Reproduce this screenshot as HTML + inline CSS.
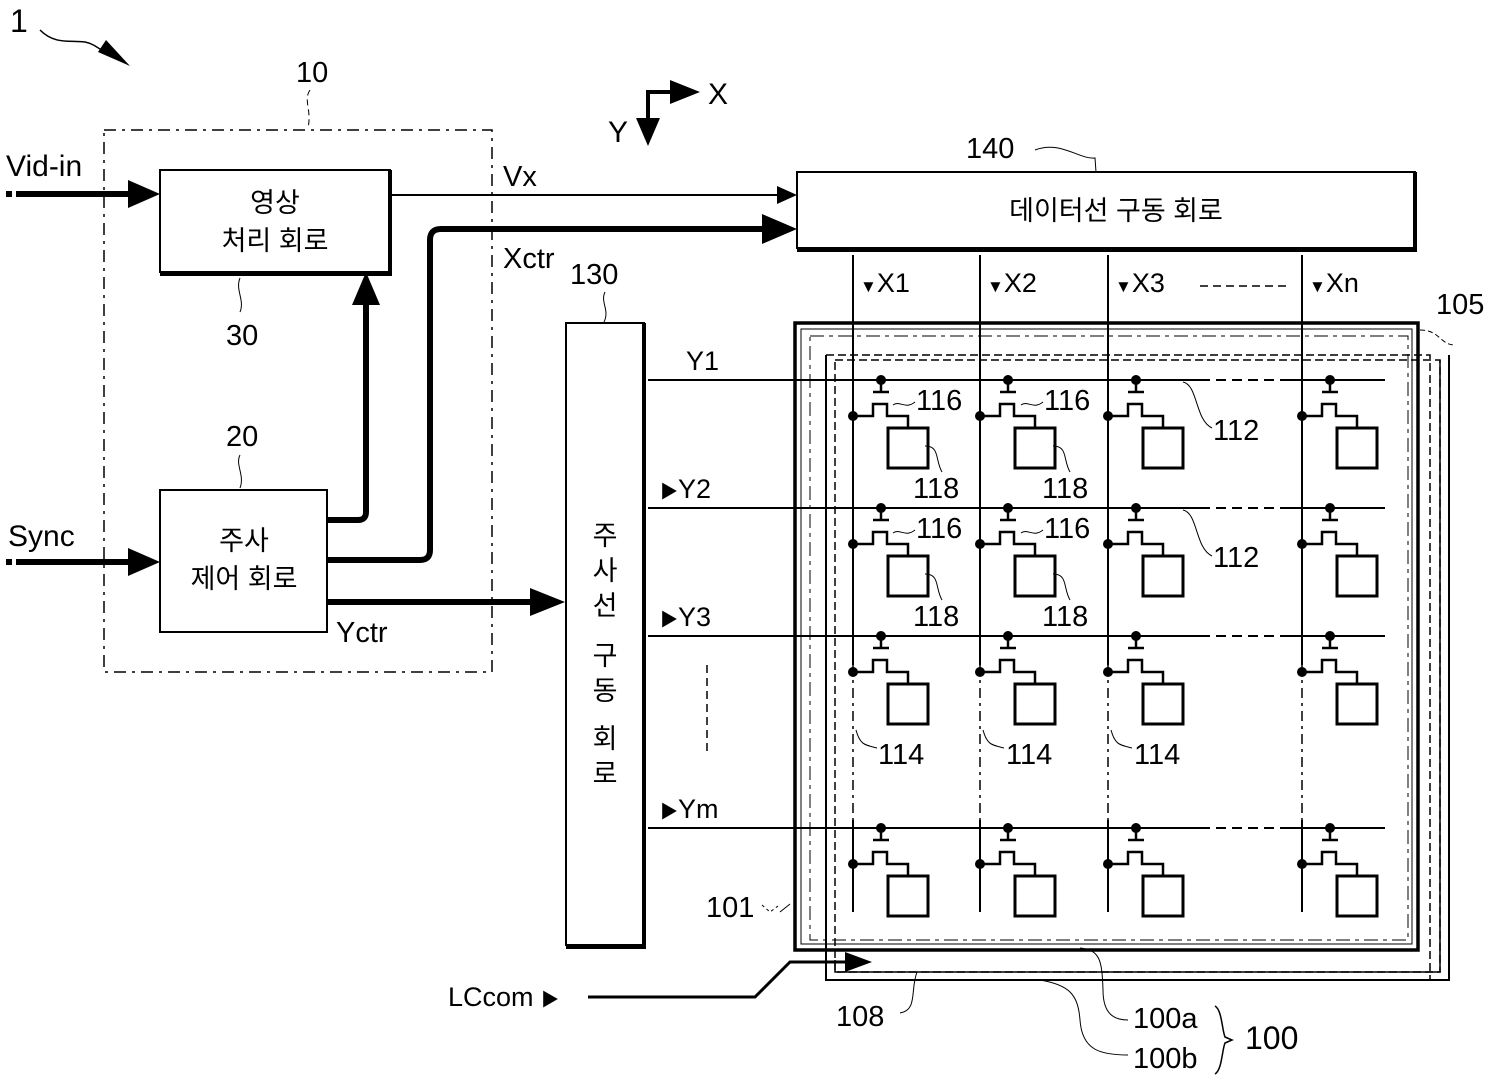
<!DOCTYPE html>
<html><head><meta charset="utf-8"><style>
html,body{margin:0;padding:0;background:#fff}
svg{display:block}
text{font-family:"Liberation Sans","Noto Sans CJK KR",sans-serif;fill:#000}
.k{font-family:"Liberation Sans","Noto Sans CJK KR",sans-serif;font-size:27px}
.l{font-size:29px}
</style></head><body>
<svg width="1500" height="1077" viewBox="0 0 1500 1077" xmlns="http://www.w3.org/2000/svg">
<defs>
<g id="cell" fill="none" stroke="#000" stroke-width="2.5">
<circle cx="28" cy="0" r="5" fill="#000" stroke="none"/>
<line x1="28" y1="0" x2="28" y2="12"/>
<line x1="20" y1="12" x2="36" y2="12"/>
<circle cx="0" cy="36" r="5" fill="#000" stroke="none"/>
<path d="M0,36H20V24H34V36H55V48"/>
<rect x="35" y="48" width="40" height="40" stroke-width="3"/>
</g>
</defs>

<!-- figure label -->
<text x="10" y="32" font-size="32">1</text>
<path d="M40,30 C55,45 70,40 85,42 C95,44 100,50 108,54" fill="none" stroke="#000" stroke-width="1.5"/>
<path d="M98,52 L106,40 L130,66 z"/>

<!-- axis -->
<path d="M648,140V92H680" fill="none" stroke="#000" stroke-width="4"/>
<path d="M670,80L700,92L670,104z"/>
<path d="M636,118L648,146L660,118z"/>
<text x="708" y="104" font-size="30">X</text>
<text x="608" y="142" font-size="30">Y</text>

<!-- block 10 dashed -->
<rect x="104" y="130" width="388" height="542" fill="none" stroke="#000" stroke-width="1.5" stroke-dasharray="12,6,3,6"/>
<text x="296" y="82" class="l">10</text>
<path d="M310,90 C303,100 312,110 308,128" fill="none" stroke="#000" stroke-width="1" stroke-dasharray="6,4"/>

<!-- box 30 -->
<rect x="160" y="170" width="230" height="102" fill="#fff" stroke="#000" stroke-width="2"/>
<path d="M390,170V274H160" fill="none" stroke="#000" stroke-width="4"/>
<text x="275" y="212" class="k" text-anchor="middle">영상</text>
<text x="275" y="250" class="k" text-anchor="middle">처리 회로</text>
<text x="226" y="345" class="l">30</text>
<path d="M240,278 C235,290 245,300 240,312" fill="none" stroke="#000" stroke-width="1"/>

<!-- box 20 -->
<rect x="160" y="490" width="167" height="142" fill="#fff" stroke="#000" stroke-width="2"/>
<text x="244" y="550" class="k" text-anchor="middle">주사</text>
<text x="244" y="588" class="k" text-anchor="middle">제어 회로</text>
<text x="226" y="446" class="l">20</text>
<path d="M240,455 C235,465 245,475 240,488" fill="none" stroke="#000" stroke-width="1"/>

<!-- inputs -->
<text x="6" y="176" font-size="30">Vid-in</text>
<rect x="6" y="191" width="6" height="6"/>
<line x1="16" y1="194" x2="135" y2="194" stroke="#000" stroke-width="6"/>
<path d="M128,180L160,194L128,208z"/>
<text x="8" y="546" font-size="30">Sync</text>
<rect x="6" y="559" width="6" height="6"/>
<line x1="16" y1="562" x2="135" y2="562" stroke="#000" stroke-width="6"/>
<path d="M128,548L160,562L128,576z"/>

<!-- Vx -->
<line x1="390" y1="195" x2="780" y2="195" stroke="#000" stroke-width="2"/>
<path d="M777,186L797,195L777,204z"/>
<text x="503" y="186" font-size="29">Vx</text>
<!-- Xctr -->
<path d="M327,560H420Q430,560 430,550V240Q430,229 441,229H770" fill="none" stroke="#000" stroke-width="6"/>
<path d="M762,214L797,229L762,244z"/>
<text x="503" y="268" font-size="29">Xctr</text>
<!-- to 30 -->
<path d="M327,520H358Q366,520 366,512V300" fill="none" stroke="#000" stroke-width="6"/>
<path d="M352,305L366,272L380,305z"/>
<!-- Yctr -->
<line x1="327" y1="602" x2="535" y2="602" stroke="#000" stroke-width="6"/>
<path d="M530,588L565,602L530,616z"/>
<text x="336" y="642" font-size="29">Yctr</text>

<!-- box 130 -->
<rect x="566" y="323" width="78" height="622" fill="#fff" stroke="#000" stroke-width="2"/>
<path d="M644,323V947H566" fill="none" stroke="#000" stroke-width="4"/>
<g class="k" text-anchor="middle">
<text x="605" y="545">주</text><text x="605" y="580">사</text><text x="605" y="615">선</text>
<text x="605" y="665">구</text><text x="605" y="700">동</text>
<text x="605" y="748">회</text><text x="605" y="783">로</text>
</g>
<text x="570" y="284" class="l">130</text>
<path d="M605,292 C600,302 610,310 604,322" fill="none" stroke="#000" stroke-width="1"/>

<!-- box 140 -->
<rect x="797" y="172" width="618" height="76" fill="#fff" stroke="#000" stroke-width="2"/>
<path d="M1415,172V250H797" fill="none" stroke="#000" stroke-width="4"/>
<text x="1116" y="220" class="k" text-anchor="middle">데이터선 구동 회로</text>
<text x="966" y="158" class="l">140</text>
<path d="M1035,150 C1060,140 1080,160 1095,158 L1096,172" fill="none" stroke="#000" stroke-width="1"/>

<!-- panel rectangles -->
<rect x="795" y="323" width="623" height="627" fill="none" stroke="#000" stroke-width="3.5"/>
<rect x="801" y="329" width="611" height="615" fill="none" stroke="#000" stroke-width="1"/>
<rect x="810" y="336" width="598" height="604" fill="none" stroke="#000" stroke-width="1" stroke-dasharray="14,5,4,5"/>
<path d="M826,355H1430V980H826Z" fill="none" stroke="#000" stroke-width="1.5" stroke-dasharray="8,4"/>
<path d="M826,355V980H1449V355" fill="none" stroke="#000" stroke-width="2"/>
<path d="M835,360H1440V972H835Z" fill="none" stroke="#000" stroke-width="1.5" stroke-dasharray="8,4"/>
<path d="M835,960V972H1440V360" fill="none" stroke="#000" stroke-width="1.5"/>
<text x="1436" y="314" class="l">105</text>
<path d="M1420,330 C1440,330 1440,345 1455,345" fill="none" stroke="#000" stroke-width="1" stroke-dasharray="5,3"/>

<!-- data lines -->
<g stroke="#000" stroke-width="2">
<line x1="853" y1="255" x2="853" y2="665"/><line x1="853" y1="820" x2="853" y2="912"/>
<line x1="980" y1="255" x2="980" y2="665"/><line x1="980" y1="820" x2="980" y2="912"/>
<line x1="1108" y1="255" x2="1108" y2="665"/><line x1="1108" y1="820" x2="1108" y2="912"/>
<line x1="1302" y1="255" x2="1302" y2="665"/><line x1="1302" y1="820" x2="1302" y2="912"/>
</g>
<g stroke="#000" stroke-width="1.5" stroke-dasharray="10,5,3,5">
<line x1="853" y1="665" x2="853" y2="820"/><line x1="980" y1="665" x2="980" y2="820"/>
<line x1="1108" y1="665" x2="1108" y2="820"/><line x1="1302" y1="665" x2="1302" y2="820"/>
</g>
<g font-size="27">
<text x="860" y="292"><tspan font-size="17">▼</tspan>X1</text><text x="987" y="292"><tspan font-size="17">▼</tspan>X2</text><text x="1115" y="292"><tspan font-size="17">▼</tspan>X3</text><text x="1309" y="292"><tspan font-size="17">▼</tspan>Xn</text>
</g>
<line x1="1200" y1="286" x2="1290" y2="286" stroke="#000" stroke-width="1.5" stroke-dasharray="8,5"/>

<!-- gate lines -->
<g stroke="#000" stroke-width="2">
<line x1="648" y1="380" x2="1200" y2="380"/><line x1="1290" y1="380" x2="1385" y2="380"/>
<line x1="648" y1="508" x2="1200" y2="508"/><line x1="1290" y1="508" x2="1385" y2="508"/>
<line x1="648" y1="636" x2="1200" y2="636"/><line x1="1290" y1="636" x2="1385" y2="636"/>
<line x1="648" y1="828" x2="1200" y2="828"/><line x1="1290" y1="828" x2="1385" y2="828"/>
</g>
<g stroke="#000" stroke-width="2" stroke-dasharray="10,6">
<line x1="1200" y1="380" x2="1290" y2="380"/><line x1="1200" y1="508" x2="1290" y2="508"/>
<line x1="1200" y1="636" x2="1290" y2="636"/><line x1="1200" y1="828" x2="1290" y2="828"/>
</g>
<line x1="707" y1="665" x2="707" y2="755" stroke="#000" stroke-width="1.5" stroke-dasharray="8,5"/>
<g font-size="27">
<text x="686" y="370">Y1</text>
<text x="660" y="498"><tspan font-size="18">▶</tspan>Y2</text>
<text x="660" y="626"><tspan font-size="18">▶</tspan>Y3</text>
<text x="660" y="818"><tspan font-size="18">▶</tspan>Ym</text>
</g>

<!-- cells -->
<use href="#cell" x="853" y="380"/><use href="#cell" x="980" y="380"/><use href="#cell" x="1108" y="380"/><use href="#cell" x="1302" y="380"/>
<use href="#cell" x="853" y="508"/><use href="#cell" x="980" y="508"/><use href="#cell" x="1108" y="508"/><use href="#cell" x="1302" y="508"/>
<use href="#cell" x="853" y="636"/><use href="#cell" x="980" y="636"/><use href="#cell" x="1108" y="636"/><use href="#cell" x="1302" y="636"/>
<use href="#cell" x="853" y="828"/><use href="#cell" x="980" y="828"/><use href="#cell" x="1108" y="828"/><use href="#cell" x="1302" y="828"/>

<!-- cell labels -->
<g font-size="29">
<text x="916" y="410">116</text><text x="1044" y="410">116</text>
<text x="916" y="538">116</text><text x="1044" y="538">116</text>
<text x="913" y="498">118</text><text x="1042" y="498">118</text>
<text x="913" y="626">118</text><text x="1042" y="626">118</text>
<text x="1213" y="440">112</text><text x="1213" y="567">112</text>
<text x="878" y="764">114</text><text x="1006" y="764">114</text><text x="1134" y="764">114</text>
<text x="706" y="917">101</text>
<text x="836" y="1026">108</text>
<text x="1133" y="1028">100a</text><text x="1133" y="1068">100b</text>
<text x="1245" y="1049" font-size="32">100</text>
</g>
<g fill="none" stroke="#000" stroke-width="1">
<path d="M893,405 C900,400 905,410 915,402"/><path d="M1021,405 C1028,400 1033,410 1043,402"/>
<path d="M893,533 C900,528 905,538 915,530"/><path d="M1021,533 C1028,528 1033,538 1043,530"/>
<path d="M925,446 C940,446 935,460 942,472"/><path d="M1053,446 C1068,446 1063,460 1070,472"/>
<path d="M925,574 C940,574 935,588 942,600"/><path d="M1053,574 C1068,574 1063,588 1070,600"/>
<path d="M1183,382 C1198,385 1195,420 1212,428"/><path d="M1183,510 C1198,513 1195,548 1212,556"/>
<path d="M856,730 C860,745 865,745 877,748"/><path d="M983,730 C987,745 992,745 1004,748"/><path d="M1111,730 C1115,745 1120,745 1132,748"/>
<path d="M762,905 L770,912 L778,906" stroke-dasharray="3,3"/><path d="M780,912 L790,904"/>
<path d="M917,972 C910,990 918,1010 900,1013"/>
<path d="M1080,948 C1100,950 1102,960 1103,990 C1103,1015 1115,1020 1128,1020"/>
<path d="M1040,980 C1070,985 1078,995 1080,1020 C1082,1050 1100,1055 1128,1055"/>
<path d="M1215,1006 C1222,1010 1222,1030 1225,1037 L1232,1040 L1225,1043 C1222,1050 1222,1070 1215,1074" stroke-width="1.5"/>
</g>

<!-- LCcom -->
<text x="448" y="1006" font-size="27">LCcom <tspan font-size="18">▶</tspan></text>
<path d="M588,997H755L790,962H850" fill="none" stroke="#000" stroke-width="3"/>
<path d="M845,952L872,962L845,972z"/>
</svg>
</body></html>
